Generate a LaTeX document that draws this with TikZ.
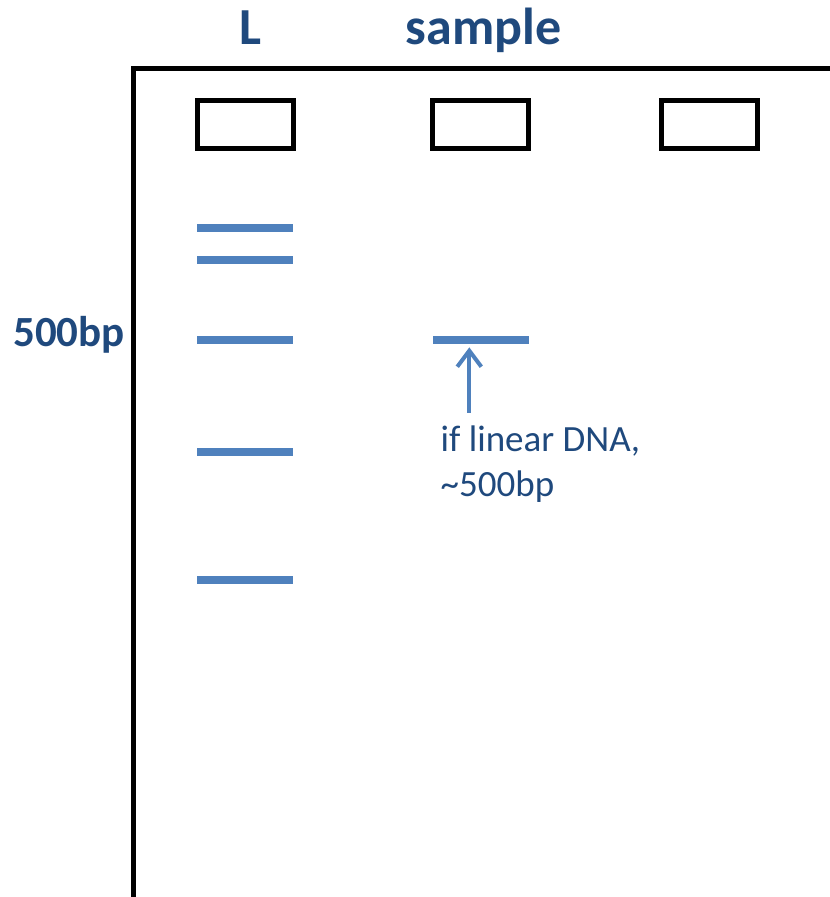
\documentclass[tikz,border=0pt]{standalone}
\usepackage{fontspec}
\setmainfont{Carlito}
\usetikzlibrary{arrows.meta}
\definecolor{labelblue}{HTML}{1F497D}
\definecolor{bandblue}{HTML}{4F81BD}
\begin{document}
\begin{tikzpicture}[x=1pt,y=-1pt,
  lanelabel/.style={text=labelblue,font=\fontsize{52}{62}\selectfont\bfseries,inner sep=0pt,anchor=base},
  sizelabel/.style={text=labelblue,font=\fontsize{43}{50}\selectfont\bfseries,inner sep=0pt,anchor=base west},
  note/.style={text=labelblue,font=\fontsize{37}{44}\selectfont,inner sep=0pt,anchor=base west},
  well/.style={draw=black,line width=5pt,minimum width=96pt,minimum height=48pt,inner sep=0pt},
  band/.style={fill=bandblue,draw=none,minimum width=96pt,minimum height=8pt,inner sep=0pt},
  pointer/.style={draw=bandblue,line width=4pt,-{Straight Barb[length=16pt,width=24pt]}}]
  \useasboundingbox (0,0) rectangle (830,897);

  % gel outline
  \draw[line width=5pt,line join=miter] (133.5,897) -- (133.5,68.5) -- (830,68.5);

  % lane labels
  \node[lanelabel] (labL) at (250.5,44) {L};
  \node[lanelabel] (labS) at (483.5,44) {sample};

  % wells
  \node[well] (w1) at (245.5,124.2) {};
  \node[well] (w2) at (480.9,124.2) {};
  \node[well] (w3) at (709.2,124.2) {};

  % ladder bands
  \node[band] (b1) at (245.3,228.3) {};
  \node[band] (b2) at (245.3,260.3) {};
  \node[band] (b3) at (245.3,340.2) {};
  \node[band] (b4) at (245.3,452) {};
  \node[band] (b5) at (245.3,579.5) {};

  % sample band
  \node[band] (sb) at (480.8,340.2) {};

  % size marker
  \node[sizelabel] (size) at (13,346.7) {500bp};

  % pointer and note
  \coordinate (tail) at (469.3,412.7);
  \draw[pointer,shorten >=3pt] (tail) -- (tail |- sb.south);
  \node[note] (n1) at (440.5,451.7) {if linear DNA,};
  \node[note] (n2) at (440.5,496.5) {\textasciitilde500bp};
\end{tikzpicture}
\end{document}
